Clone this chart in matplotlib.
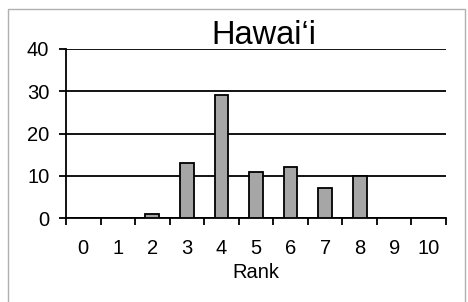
import matplotlib
matplotlib.use("Agg")
import matplotlib.pyplot as plt
from matplotlib.patches import Rectangle
import numpy as np

ranks = [0, 1, 2, 3, 4, 5, 6, 7, 8, 9, 10]
counts = [0, 0, 1, 13, 29, 11, 12, 7, 10, 0, 0]
rank_labels = [str(r) for r in ranks]
y_ticks = [0, 10, 20, 30, 40]
title = "Hawai\u2018i"
xlabel = "Rank"

plt.rcParams['font.family'] = ['Liberation Sans', 'DejaVu Sans']

W, H = 468, 302
fig = plt.figure(figsize=(W / 100, H / 100), dpi=100)
fig.patch.set_facecolor('white')

# outer light frame
fig.patches.append(Rectangle((8 / W, -0.05), (465 - 8) / W, 1.05 - 9 / H,
                             transform=fig.transFigure, fill=False,
                             edgecolor='#b0b0b0', linewidth=1.0))

ax = fig.add_axes([66 / W, 1 - 218 / H, (446 - 66) / W, (218 - 49) / H])
x = np.arange(len(ranks))
ax.bar(x, counts, width=0.4, color='#a6a6a6', edgecolor='black', linewidth=1.3, zorder=3)

ax.set_xlim(-0.5, len(ranks) - 0.5)
ax.set_ylim(0, 40)
ax.set_yticks(y_ticks)
ax.set_yticklabels([str(v) for v in y_ticks], fontsize=14.5)
ax.yaxis.grid(True, color='black', linewidth=1.3)
ax.set_axisbelow(True)

ax.set_xticks(np.arange(-0.5, len(ranks), 1.0))
ax.set_xticklabels([])
ax.set_xticks(x, minor=True)
ax.set_xticklabels(rank_labels, minor=True, fontsize=14.5)
ax.tick_params(axis='x', which='major', direction='out', length=5, width=1.3)
ax.tick_params(axis='x', which='minor', length=0, pad=15)
ax.tick_params(axis='y', direction='out', length=5, width=1.3, pad=7)

for s in ['top', 'right']:
    ax.spines[s].set_visible(False)
for s in ['left', 'bottom']:
    ax.spines[s].set_linewidth(1.3)

ax.set_xlabel(xlabel, fontsize=14.5, labelpad=4)
fig.text(264 / W, 1 - 36 / H, title, ha='center', va='center', fontsize=23.5)

fig.savefig('out.png', dpi=100)
